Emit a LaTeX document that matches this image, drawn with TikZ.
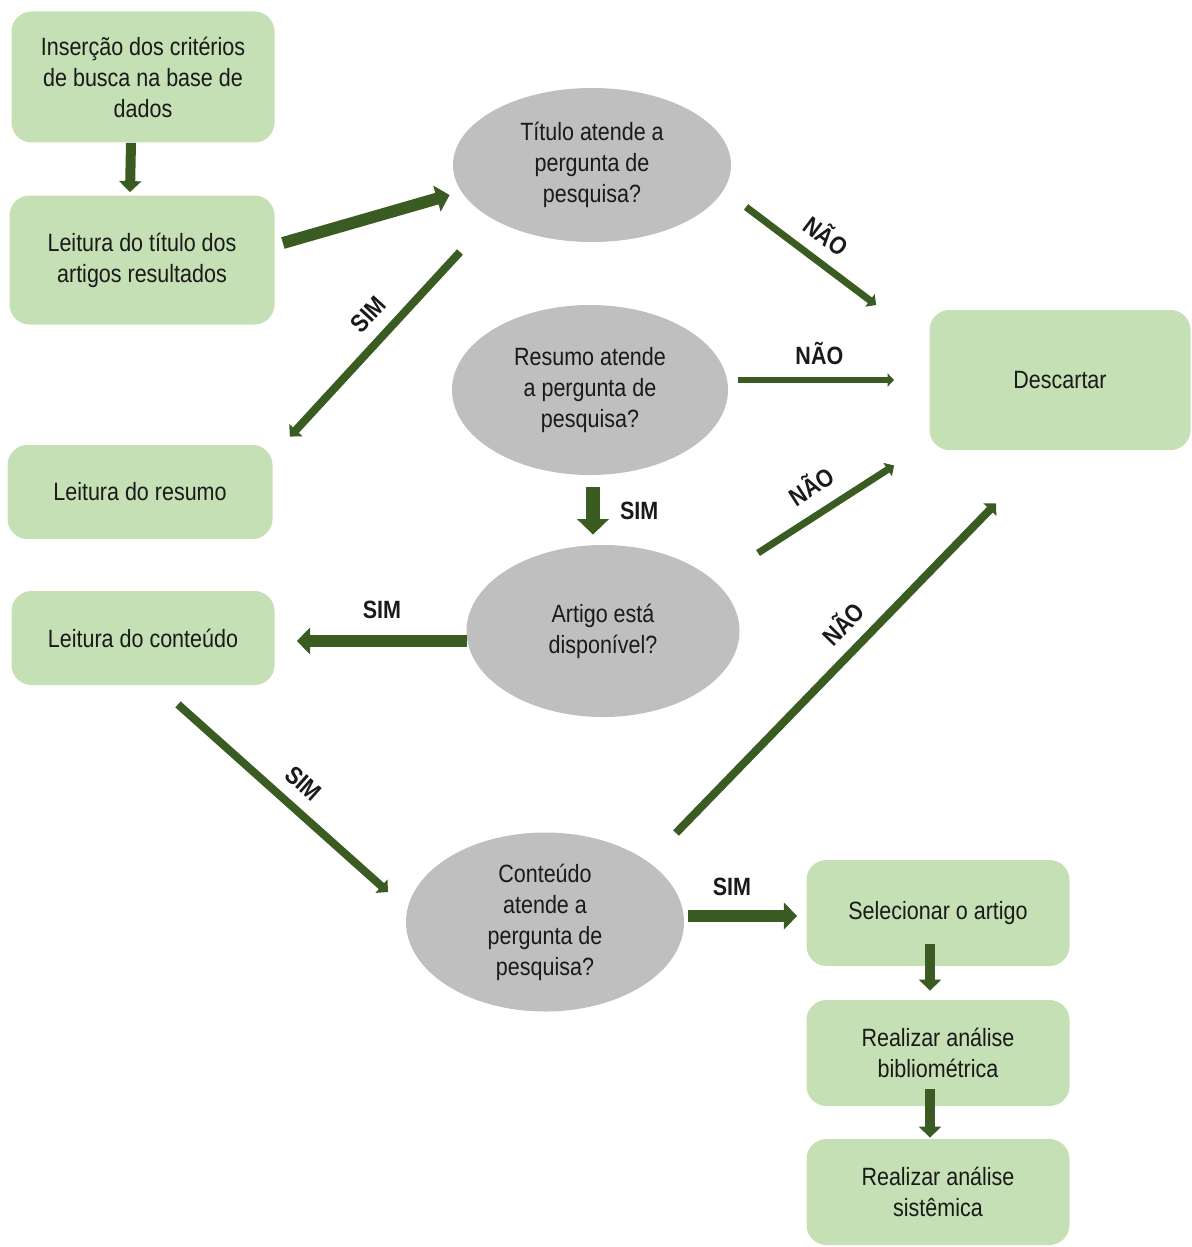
\documentclass[tikz,border=0pt]{standalone}
\usepackage{fontspec}
\setmainfont{Liberation Sans}[FakeStretch=0.86]
\usetikzlibrary{shapes.geometric,arrows.meta,calc}
\definecolor{boxgreen}{HTML}{C5E0B4}
\definecolor{arrowgreen}{HTML}{3A5C22}
\definecolor{askgray}{HTML}{BFBFBF}
\definecolor{ink}{HTML}{1A1A1A}
\begin{document}
\begin{tikzpicture}[x=0.5pt,y=-0.5pt,
  stepbox/.style={rectangle, rounded corners=10pt, fill=boxgreen, align=center,
    inner sep=0pt, text=ink, font=\fontsize{12.5}{15.5}\selectfont},
  ask/.style={ellipse, fill=askgray, align=center, inner sep=0pt, text=ink,
    font=\fontsize{12.5}{15.5}\selectfont},
  flow/.style={draw=arrowgreen, line width=#1,
    -{Triangle[width=0pt 2.2, length=0pt 1.1]}},
  lbl/.style={text=ink, inner sep=1pt, font=\bfseries\fontsize{12.5}{14}\selectfont}
]
\useasboundingbox (0,0) rectangle (1192,1247);

% process steps
\node[stepbox, minimum width=131.5pt, minimum height=65.5pt] (ins) at (143,77)
  {Inserção dos critérios\\de busca na base de\\dados};
\node[stepbox, minimum width=132.5pt, minimum height=64.5pt] (lt) at (142,260)
  {Leitura do título dos\\artigos resultados};
\node[stepbox, minimum width=132.5pt, minimum height=47pt] (lr) at (140,492)
  {Leitura do resumo};
\node[stepbox, minimum width=131.5pt, minimum height=47pt] (lc) at (143,638)
  {Leitura do conteúdo};
\node[stepbox, minimum width=130.5pt, minimum height=70pt] (desc) at (1060,380)
  {Descartar};
\node[stepbox, minimum width=131.5pt, minimum height=53pt] (sel) at (938,913)
  {Selecionar o artigo};
\node[stepbox, minimum width=131.5pt, minimum height=53pt] (bib) at (938,1053)
  {Realizar análise\\bibliométrica};
\node[stepbox, minimum width=131.5pt, minimum height=53pt] (sis) at (938,1192)
  {Realizar análise\\sistêmica};

% decisions
\node[ask, minimum width=139pt, minimum height=77pt] (e1) at (592,165)
  {Título atende a\\pergunta de\\pesquisa?};
\node[ask, minimum width=138pt, minimum height=85pt] (e2) at (590,390)
  {Resumo atende\\a pergunta de\\pesquisa?};
\node[ask, minimum width=136.5pt, minimum height=86pt] (e3) at (603,631)
  {Artigo está\\disponível?};
\node[ask, minimum width=139pt, minimum height=89.5pt] (e4) at (545,922)
  {Conteúdo\\atende a\\pergunta de\\pesquisa?};

% connectors
\draw[flow=5pt] ($(ins.south)+(-12,0)$) -- ($(lt.north)+(-12,-3)$);
\draw[flow=6pt] ($(lt.east)+(8,-17)$) -- ($(e1.west)+(-3,30)$);
\draw[flow=4pt] ($(e1)+(-132,87)$) -- ($(lr.north east)+(17,-8)$)
  node[lbl, pos=0.43, sloped, above=5pt] {SIM};
\draw[flow=3.5pt] ($(e1)+(154,42)$) -- ($(desc.west)+(-53,-75)$)
  node[lbl, pos=0.5, sloped, above=5pt] {NÃO};
\draw[flow=3pt] ($(e2.east)+(10,-10)$) -- ($(desc.west)+(-35,0)$)
  node[lbl, pos=0.52, above=5pt] {NÃO};
\draw[flow=7pt] ($(e2.south)+(3,12)$) -- ($(e3.north)+(-10,-10)$)
  node[lbl, midway, right=9pt] {SIM};
\draw[flow=3.5pt] ($(e3)+(155,-78)$) -- ($(desc.south west)+(-35,15)$)
  node[lbl, pos=0.5, sloped, above=6pt] {NÃO};
\draw[flow=6pt] ($(e3.west)+(1,10)$) -- ($(lc.east)+(22,3)$)
  node[lbl, pos=0.5, above=7pt] {SIM};
\draw[flow=4pt] ($(lc.south)+(35,19)$) -- ($(e4)+(-157,-30)$)
  node[lbl, pos=0.52, sloped, above=5pt] {SIM};
\draw[flow=4pt] ($(e4)+(131,-89)$) -- ($(desc.south)+(-64,53)$)
  node[lbl, pos=0.58, sloped, above=5pt] {NÃO};
\draw[flow=6pt] ($(e4.east)+(4,-6)$) -- ($(sel.west)+(-9,3)$)
  node[lbl, pos=0.4, above=6pt] {SIM};
\draw[flow=5pt] ($(sel.south)+(-8,-22)$) -- ($(bib.north)+(-8,-9)$);
\draw[flow=5pt] ($(bib.south)+(-8,-17)$) -- ($(sis.north)+(-8,-1)$);
\end{tikzpicture}
\end{document}
